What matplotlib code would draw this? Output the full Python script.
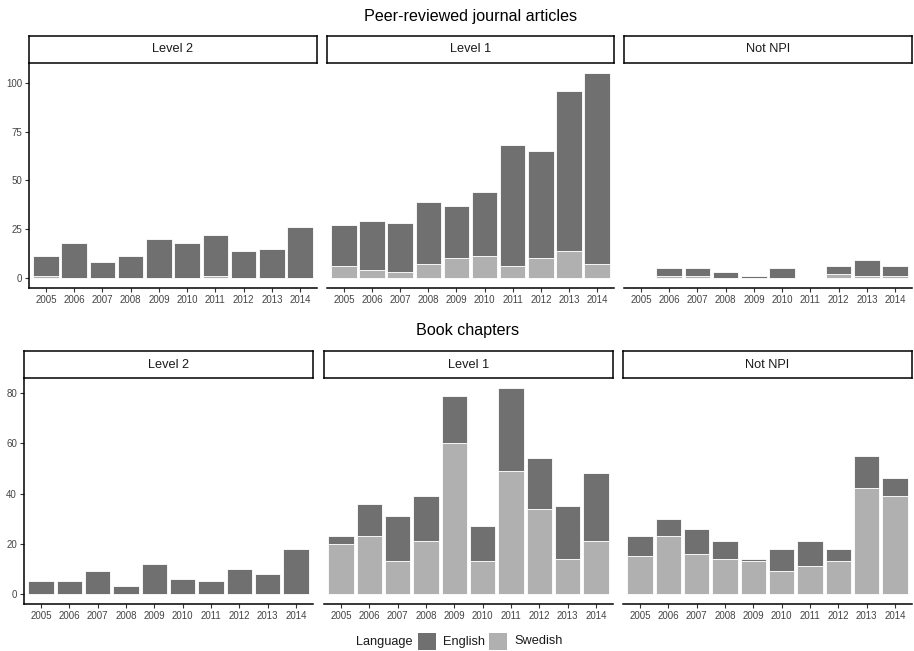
import matplotlib
matplotlib.use("Agg")
import matplotlib.pyplot as plt
from matplotlib.patches import Rectangle
import numpy as np

plt.rcParams["font.family"] = ["Liberation Sans", "DejaVu Sans"]

years = [str(y) for y in range(2005, 2015)]
levels = ["Level 2", "Level 1", "Not NPI"]
languages = ["English", "Swedish"]
colors = {"English": "#707070", "Swedish": "#b0b0b0"}

# Peer-reviewed journal articles, counts per year
journal_english = {
    "Level 2": [10, 18, 8, 11, 20, 18, 21, 14, 15, 26],
    "Level 1": [21, 25, 25, 32, 27, 33, 62, 55, 82, 98],
    "Not NPI": [0, 4, 4, 3, 1, 5, 0, 4, 8, 5],
}
journal_swedish = {
    "Level 2": [1, 0, 0, 0, 0, 0, 1, 0, 0, 0],
    "Level 1": [6, 4, 3, 7, 10, 11, 6, 10, 14, 7],
    "Not NPI": [0, 1, 1, 0, 0, 0, 0, 2, 1, 1],
}

# Book chapters, counts per year
book_english = {
    "Level 2": [5, 5, 9, 3, 12, 6, 5, 10, 8, 18],
    "Level 1": [3, 13, 18, 18, 19, 14, 33, 20, 21, 27],
    "Not NPI": [8, 7, 10, 7, 1, 9, 10, 5, 13, 7],
}
book_swedish = {
    "Level 2": [0, 0, 0, 0, 0, 0, 0, 0, 0, 0],
    "Level 1": [20, 23, 13, 21, 60, 13, 49, 34, 14, 21],
    "Not NPI": [15, 23, 16, 14, 13, 9, 11, 13, 42, 39],
}

journal_ticks = [0, 25, 50, 75, 100]
book_ticks = [0, 20, 40, 60, 80]

W, H = 914, 651
fig = plt.figure(figsize=(W / 100, H / 100), dpi=100)
fig.patch.set_facecolor("white")


def rect(x0, y0, x1, y1):
    return [x0 / W, 1 - y1 / H, (x1 - x0) / W, (y1 - y0) / H]


TICK_COLOR = "#333333"
LABEL_COLOR = "#444444"


def draw_row(title, title_y, english, swedish, yticks, xcols, strip_y, panel_y):
    ymax = max(max(np.add(english[l], swedish[l])) for l in levels)
    span = ymax * 1.05
    ylim = (-ymax * 0.05, span)
    x = np.arange(len(years))
    for i, (lvl, (x0, x1)) in enumerate(zip(levels, xcols)):
        ax = fig.add_axes(rect(x0, panel_y[0], x1, panel_y[1]))
        sw = np.array(swedish[lvl])
        en = np.array(english[lvl])
        ax.bar(x, sw, width=0.9, color=colors["Swedish"],
               edgecolor="white", linewidth=0.6)
        ax.bar(x, en, width=0.9, bottom=sw, color=colors["English"],
               edgecolor="white", linewidth=0.6)
        ax.set_xlim(-0.6, len(years) - 0.4)
        ax.set_ylim(*ylim)
        ax.set_xticks(x)
        ax.set_xticklabels(years)
        ax.set_yticks(yticks)
        for s in ("top", "right"):
            ax.spines[s].set_visible(False)
        ax.spines["bottom"].set_linewidth(1.1)
        ax.spines["left"].set_linewidth(1.1)
        ax.tick_params(axis="both", length=3, width=0.8, color=TICK_COLOR,
                       labelsize=7, labelcolor=LABEL_COLOR, pad=2)
        if i > 0:
            ax.spines["left"].set_visible(False)
            ax.tick_params(axis="y", left=False, labelleft=False)
        # facet strip
        sax = fig.add_axes(rect(x0, strip_y[0], x1, strip_y[1]))
        sax.set_xticks([])
        sax.set_yticks([])
        for s in sax.spines.values():
            s.set_linewidth(1.1)
            s.set_color("black")
        sax.text(0.5, 0.5, lvl, ha="center", va="center", fontsize=9.2,
                 color="#1a1a1a", transform=sax.transAxes)
    center = (xcols[0][0] + xcols[-1][1]) / 2
    fig.text(center / W, 1 - title_y / H, title, ha="center", va="center",
             fontsize=11.6, color="black")


draw_row("Peer-reviewed journal articles", 16, journal_english, journal_swedish,
         journal_ticks, [(29, 317), (327, 614), (624, 912)], (36, 63), (63, 288))
draw_row("Book chapters", 331, book_english, book_swedish,
         book_ticks, [(24, 313), (324, 613), (623, 912)], (351, 378), (378, 604))

# legend along the bottom
lax = fig.add_axes([0, 0, 1, 1])
lax.set_xlim(0, W)
lax.set_ylim(H, 0)
lax.axis("off")
ly = 641.5
lax.text(356, ly, "Language", ha="left", va="center", fontsize=9.2, color="#1a1a1a")
key_x = {"English": 418, "Swedish": 489}
for lang in languages:
    kx = key_x[lang]
    lax.add_patch(Rectangle((kx, ly - 8.5), 18, 17, facecolor=colors[lang],
                            edgecolor="none"))
    lax.text(kx + 25, ly, lang, ha="left", va="center", fontsize=9.2,
             color="#1a1a1a")

fig.savefig("out.png", dpi=100, facecolor="white")
